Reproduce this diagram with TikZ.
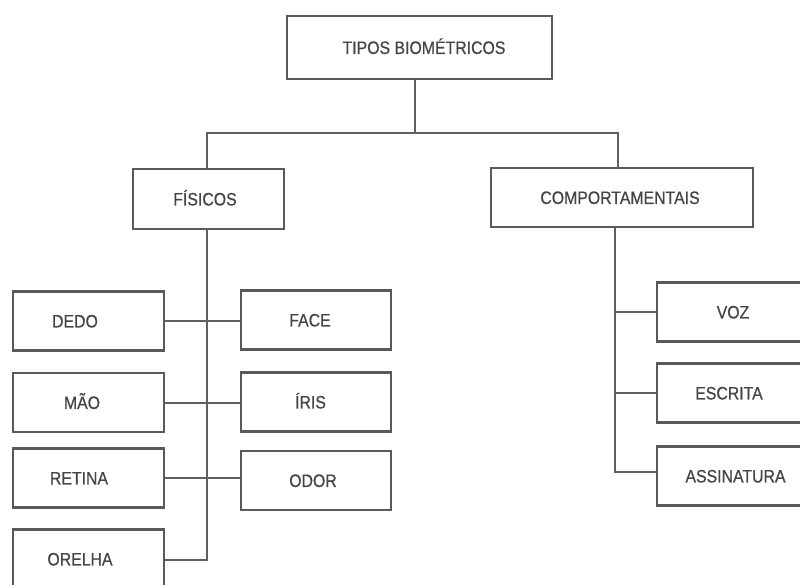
\documentclass[tikz,border=0pt]{standalone}
\usepackage{fontspec}
\setmainfont{Liberation Sans}[FakeStretch=0.88,FakeBold=0.6]
\definecolor{boxgray}{HTML}{5A5A5A}
\definecolor{linegray}{HTML}{606060}
\definecolor{txtgray}{HTML}{454545}
\begin{document}
\begin{tikzpicture}[x=1pt,y=-1pt,
  box/.style={draw=boxgray,line width=2.8pt,fill=white,minimum width=151pt,minimum height=59pt,inner sep=0pt},
  lbl/.style={text=txtgray,font=\fontsize{18}{20}\selectfont,text height=12.9pt,text depth=0pt,inner sep=0pt},
  conn/.style={draw=linegray,line width=2pt}]
\useasboundingbox (0,0) rectangle (800,585);
\clip (0,0) rectangle (800,585);
\fill[white] (0,0) rectangle (800,585);

% boxes
\node[box,minimum width=265pt,minimum height=63pt,label={[lbl,xshift=4.5pt]center:TIPOS BIOMÉTRICOS}] (tipos) at (419.5,47.5) {};
\node[box,minimum width=151pt,minimum height=60pt,label={[lbl,xshift=-3.5pt]center:FÍSICOS}] (fis) at (208.5,199) {};
\node[box,minimum width=262pt,minimum height=59pt,label={[lbl,xshift=-2pt]center:COMPORTAMENTAIS}] (comp) at (622,197.5) {};

\node[box,label={[lbl,xshift=-13.5pt]center:DEDO}] (dedo) at (88.5,321) {};
\node[box,label={[lbl,xshift=-6.5pt]center:MÃO}] (mao) at (88.5,402.5) {};
\node[box,label={[lbl,xshift=-9.5pt]center:RETINA}] (retina) at (88.5,478) {};
\node[box,label={[lbl,xshift=-8.5pt]center:ORELHA}] (orelha) at (88.5,559) {};

\node[box,minimum width=150pt,label={[lbl,xshift=-6pt]center:FACE}] (face) at (316,320) {};
\node[box,minimum width=150pt,label={[lbl,xshift=-5.5pt]center:ÍRIS}] (iris) at (316,402) {};
\node[box,minimum width=150pt,label={[lbl,xshift=-3pt]center:ODOR}] (odor) at (316,480.5) {};

\node[box,minimum width=150pt,label={[lbl,xshift=1pt]center:VOZ}] (voz) at (732,312) {};
\node[box,minimum width=150pt,label={[lbl,xshift=-3pt]center:ESCRITA}] (escrita) at (732,393) {};
\node[box,minimum width=150pt,label={[lbl,xshift=3.5pt]center:ASSINATURA}] (assin) at (732,476) {};

% connectors
\coordinate (j0) at (415,133);
\coordinate (jl) at (207,133);
\coordinate (jr) at (618,133);
\draw[conn] (tipos.south -| j0) -- (j0);
\draw[conn] (fis.north -| jl) -- (jl) -- (jr) -- (comp.north -| jr);

\coordinate (fb) at (207,560);
\draw[conn] (fis.south -| fb) -- (fb) -- (orelha.east |- fb);
\draw[conn] (dedo.east) -- (dedo.east -| face.west);
\draw[conn] (mao.east) -- (mao.east -| iris.west);
\draw[conn] (retina.east) -- (retina.east -| odor.west);

\coordinate (cb) at (615,472);
\draw[conn] (comp.south -| cb) -- (cb) -- (assin.west |- cb);
\draw[conn] (voz.west -| cb) -- (voz.west);
\draw[conn] (escrita.west -| cb) -- (escrita.west);
\end{tikzpicture}
\end{document}
